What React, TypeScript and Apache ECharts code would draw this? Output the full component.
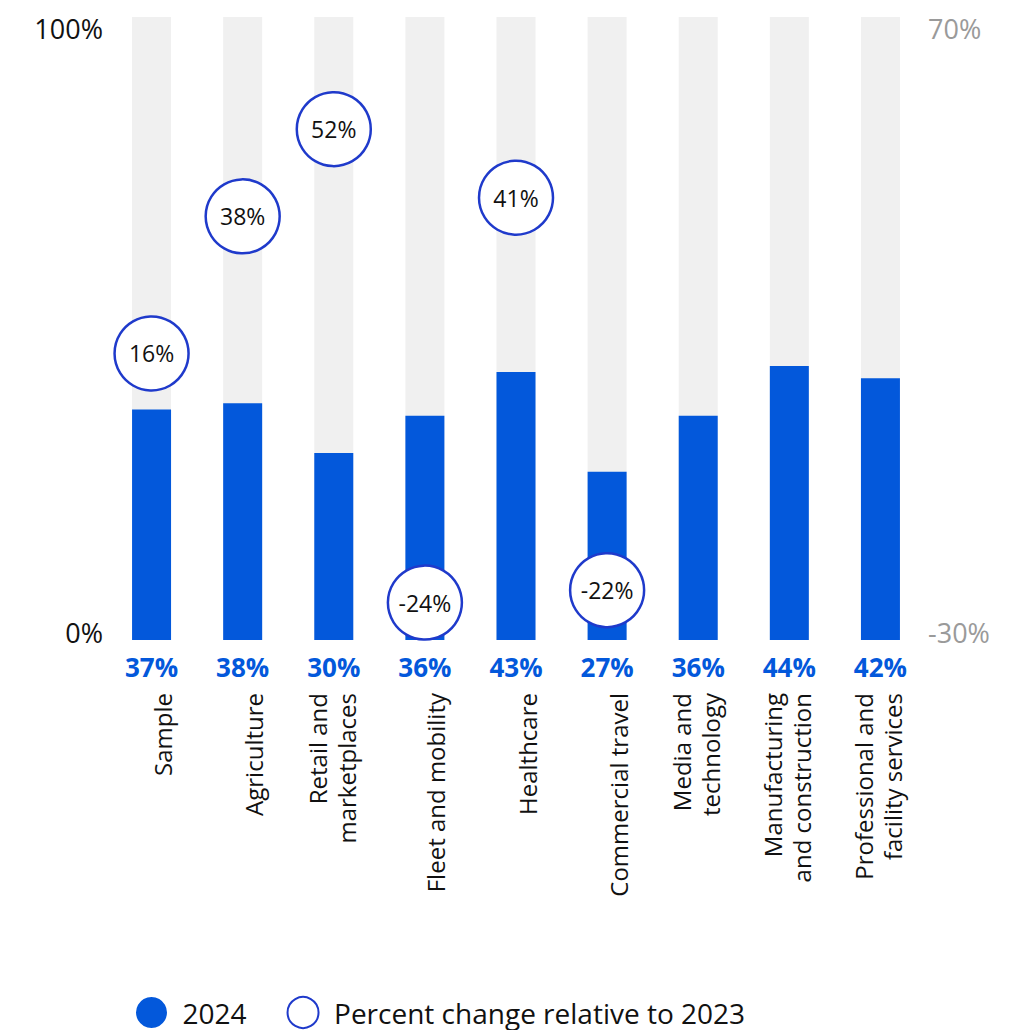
import React, { useEffect, useRef } from "react";
import * as echarts from "echarts";

const categories = [
  "Sample",
  "Agriculture",
  "Retail and\nmarketplaces",
  "Fleet and mobility",
  "Healthcare",
  "Commercial travel",
  "Media and\ntechnology",
  "Manufacturing\nand construction",
  "Professional and\nfacility services",
];
const values2024 = [37, 38, 30, 36, 43, 27, 36, 44, 42];
const changeVs2023: (number | null)[] = [16, 38, 52, -24, 41, -22, null, null, null];
const leftAxisRange = [0, 100];
const rightAxisRange = [-30, 70];
const legendNames = ["2024", "Percent change relative to 2023"];

const BLUE = "#0358db";
const RING = "#1f3acb";
const FONT = "Open Sans";

export default function App() {
  const ref = useRef<HTMLDivElement>(null);
  useEffect(() => {
    if (!ref.current) return;
    const chart = echarts.init(ref.current, null, { renderer: "svg" });
    const edgeRich = (color: string) => ({
      t: { padding: [22, 0, 0, 0], fontSize: 27, fontFamily: FONT, color },
      b: { padding: [0, 0, 16, 0], fontSize: 27, fontFamily: FONT, color },
    });
    const catStyle = { fontSize: 24, fontFamily: FONT, color: "#111", lineHeight: 33 };
    chart.setOption({
      animation: false,
      grid: { left: 106, right: 91, top: 17, bottom: 390, containLabel: false },
      legend: {
        data: legendNames,
        icon: "circle",
        left: 136,
        top: 996,
        padding: 0,
        itemWidth: 36,
        itemHeight: 31,
        itemGap: 40,
        textStyle: { fontSize: 28, fontFamily: FONT, color: "#111", padding: [0, 0, 0, 8] },
      },
      xAxis: {
        type: "category",
        data: categories,
        axisLine: { show: false },
        axisTick: { show: false },
        axisLabel: {
          interval: 0,
          rotate: 90,
          margin: 53,
          ...catStyle,
          formatter: (v: string) => {
            const parts = v.split("\n");
            if (parts.length === 1) return `{s|${v}}`;
            return `{l1|${parts[0]}}\n{l2|${parts[1]}}`;
          },
          rich: {
            s: { ...catStyle, padding: [22, 0, 0, 0] },
            l1: { ...catStyle },
            l2: { ...catStyle, padding: [0, 0, 8, 0] },
          },
        },
      },
      yAxis: [
        {
          type: "value",
          min: leftAxisRange[0],
          max: leftAxisRange[1],
          interval: 100,
          position: "left",
          axisLine: { show: false },
          axisTick: { show: false },
          splitLine: { show: false },
          axisLabel: {
            margin: 3,
            fontSize: 27,
            fontFamily: FONT,
            color: "#111",
            formatter: (v: number) => (v === leftAxisRange[1] ? `{t|${v}%}` : `{b|${v}%}`),
            rich: edgeRich("#111"),
          },
        },
        {
          type: "value",
          min: rightAxisRange[0],
          max: rightAxisRange[1],
          interval: 100,
          position: "right",
          axisLine: { show: false },
          axisTick: { show: false },
          splitLine: { show: false },
          axisLabel: {
            margin: 2,
            fontSize: 27,
            fontFamily: FONT,
            color: "#9a9a9a",
            formatter: (v: number) => (v === rightAxisRange[1] ? `{t|${v}%}` : `{b|${v}%}`),
            rich: edgeRich("#9a9a9a"),
          },
        },
      ],
      series: [
        {
          name: legendNames[0],
          type: "bar",
          data: values2024,
          barWidth: 39,
          yAxisIndex: 0,
          itemStyle: { color: BLUE },
          showBackground: true,
          backgroundStyle: { color: "#f0f0f0" },
          label: {
            show: true,
            position: "bottom",
            distance: 14,
            formatter: "{c}%",
            color: BLUE,
            fontWeight: "bold",
            fontSize: 26,
            fontFamily: FONT,
          },
        },
        {
          name: legendNames[1],
          type: "scatter",
          yAxisIndex: 1,
          data: changeVs2023.map((v) => (v == null ? "-" : v)),
          symbol: "circle",
          symbolSize: 74,
          itemStyle: { color: "#fff", borderColor: RING, borderWidth: 2.5, opacity: 1 },
          label: {
            show: true,
            position: "inside",
            formatter: (p: any) => `${p.value}%`,
            color: "#111",
            fontSize: 23,
            fontFamily: FONT,
          },
          z: 5,
        },
      ],
    });
    return () => chart.dispose();
  }, []);
  return (
    <div
      ref={ref}
      style={{ position: "fixed", left: 0, top: 0, width: 1017, height: 1030, background: "#fff" }}
    />
  );
}
